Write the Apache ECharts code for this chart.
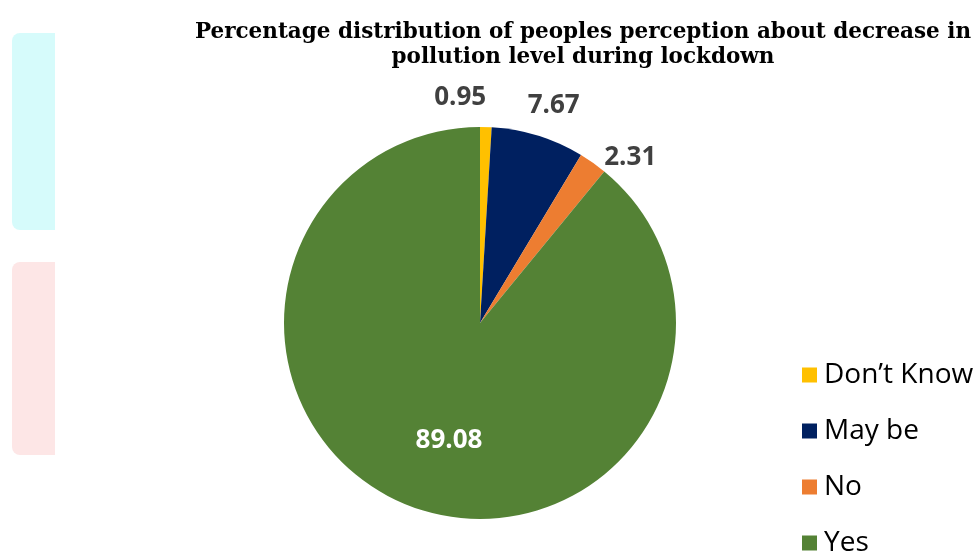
<!DOCTYPE html>
<html><head><meta charset="utf-8">
<script src="https://cdn.jsdelivr.net/npm/echarts@6/dist/echarts.min.js"></script>
<style>html,body{margin:0;padding:0;background:#fff}#c{width:976px;height:552px}</style>
</head><body><div id="c"></div>
<script>
const categories = ["Don\u2019t Know", "May be", "No", "Yes"];
const values = [0.95, 7.67, 2.31, 89.08];
const colors = ["#FFC000", "#002060", "#ED7D31", "#548235"];
const titleText = "Percentage distribution of peoples perception about decrease in\npollution level during lockdown";

const chart = echarts.init(document.getElementById('c'), null, {renderer: 'canvas'});
const data = categories.map((n, i) => ({
  name: n, value: values[i],
  itemStyle: {color: colors[i]},
  label: i === 3
    ? {position: 'inside', color: '#ffffff'}
    : {position: 'outside', color: '#404040'}
}));
const labelShift = [[-57, -17], [-57, -37], [-18, -13], [3, 22]];
chart.setOption({
  animation: false,
  backgroundColor: '#ffffff',
  graphic: [
    {type: 'rect', shape: {x: 12, y: 33, width: 43, height: 197, r: [8, 0, 0, 8]}, style: {fill: '#d6fbfb'}},
    {type: 'rect', shape: {x: 12, y: 262, width: 43, height: 193, r: [8, 0, 0, 8]}, style: {fill: '#fde6e6'}}
  ],
  title: {
    text: titleText, left: 578, top: 15, textAlign: 'center',
    textStyle: {fontFamily: 'DejaVu Serif', fontWeight: 'bold', fontSize: 21.5, lineHeight: 25, color: '#000'}
  },
  legend: {
    orient: 'vertical', left: 797, top: 356, height: 240, itemWidth: 15, itemHeight: 15, itemGap: 28,
    icon: 'rect',
    textStyle: {fontFamily: 'Open Sans', fontSize: 28, lineHeight: 28, color: '#000', padding: [0, 0, 0, 2]},
    data: categories
  },
  series: [{
    type: 'pie', center: [480, 323], radius: 196, startAngle: 90, clockwise: true,
    label: {show: true, formatter: '{c}', fontFamily: 'Open Sans', fontWeight: 'bold', fontSize: 26},
    labelLine: {show: false, length: 12, length2: 0},
    itemStyle: {borderWidth: 0},
    emphasis: {disabled: true},
    labelLayout: p => ({dx: labelShift[p.dataIndex][0], dy: labelShift[p.dataIndex][1]}),
    data: data
  }]
});
</script></body></html>
